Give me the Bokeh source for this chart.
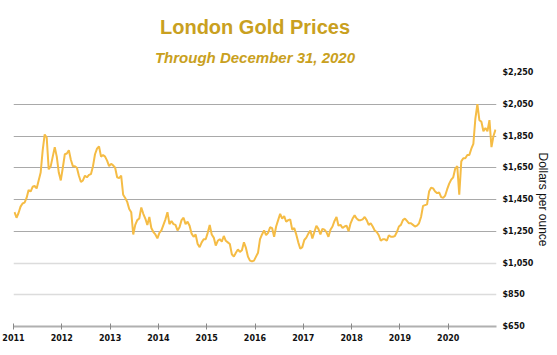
from bokeh.plotting import figure
from bokeh.models import (ColumnDataSource, FixedTicker, NumeralTickFormatter,
                          Title, Range1d, Grid)
from bokeh.embed import file_html
from bokeh.resources import INLINE

# Semi-monthly London gold prices (USD/oz)
y2011 = [1370, 1335, 1365, 1405, 1425, 1430, 1460, 1510, 1500, 1530, 1535, 1520,
         1570, 1620, 1760, 1860, 1840, 1640, 1660, 1720, 1780, 1720, 1620, 1570]
y2012 = [1650, 1735, 1740, 1760, 1700, 1660, 1660, 1650, 1600, 1560, 1570, 1600,
         1590, 1605, 1610, 1660, 1735, 1770, 1785, 1720, 1730, 1720, 1695, 1660]
y2013 = [1675, 1665, 1650, 1590, 1585, 1600, 1480, 1460, 1435, 1390, 1370, 1230,
         1290, 1320, 1330, 1400, 1360, 1330, 1290, 1340, 1270, 1245, 1230, 1205]
y2014 = [1240, 1255, 1290, 1325, 1370, 1295, 1315, 1295, 1290, 1255, 1275, 1320,
         1335, 1295, 1310, 1285, 1235, 1215, 1230, 1170, 1150, 1180, 1200, 1200]
y2015 = [1240, 1290, 1230, 1210, 1160, 1190, 1200, 1185, 1220, 1190, 1180, 1170,
         1105, 1090, 1115, 1135, 1120, 1130, 1180, 1145, 1090, 1065, 1060, 1065]
y2016 = [1090, 1115, 1200, 1230, 1255, 1225, 1240, 1275, 1270, 1215, 1280, 1320,
         1360, 1330, 1345, 1310, 1320, 1325, 1260, 1270, 1230, 1180, 1140, 1150]
y2017 = [1195, 1210, 1235, 1255, 1205, 1245, 1285, 1265, 1230, 1265, 1260, 1245,
         1215, 1260, 1280, 1315, 1340, 1285, 1290, 1270, 1280, 1285, 1250, 1300]
y2018 = [1330, 1350, 1330, 1320, 1320, 1325, 1340, 1320, 1290, 1300, 1280, 1255,
         1245, 1225, 1190, 1200, 1200, 1190, 1225, 1215, 1215, 1220, 1245, 1280]
y2019 = [1290, 1320, 1330, 1315, 1300, 1300, 1290, 1280, 1285, 1300, 1340, 1410,
         1415, 1420, 1500, 1525, 1520, 1500, 1490, 1495, 1465, 1460, 1475, 1515]
y2020 = [1550, 1575, 1590, 1645, 1660, 1480, 1690, 1710, 1710, 1730, 1730, 1770,
         1800, 1960, 2050, 1950, 1940, 1880, 1900, 1880, 1950, 1780, 1850, 1890]

years = [2011, 2012, 2013, 2014, 2015, 2016, 2017, 2018, 2019, 2020]
year_series = [y2011, y2012, y2013, y2014, y2015, y2016, y2017, y2018, y2019, y2020]
price_ticks = [650, 850, 1050, 1250, 1450, 1650, 1850, 2050, 2250]
dark_grid_ticks = [1250, 1450, 1650, 1850, 2050, 2250]
light_grid_ticks = [850, 1050]

xs, ys = [], []
for yr, vals in zip(years, year_series):
    n = len(vals)
    for i, v in enumerate(vals):
        xs.append(yr + (i + 0.5) / n)
        ys.append(v)
src = ColumnDataSource(data=dict(x=xs, y=ys))

GOLD = "#C9A020"
LINE = "#F5BC45"

p = figure(width=553, height=345, output_backend="svg", toolbar_location=None,
           x_range=Range1d(2011, 2021), y_range=Range1d(650, 2250),
           y_axis_location="right",
           min_border_left=13, min_border_right=0, min_border_top=72, min_border_bottom=19)
p.outline_line_color = None
p.background_fill_color = "white"
p.border_fill_color = "white"

p.add_layout(Title(text="Through December 31, 2020", text_font="Liberation Sans",
                   text_font_size="15px", text_font_style="bold italic", text_color=GOLD,
                   align="center", offset=-9, standoff=14), "above")
p.add_layout(Title(text="London Gold Prices", text_font="Liberation Sans",
                   text_font_size="20px", text_font_style="bold", text_color=GOLD,
                   align="center", offset=-9, standoff=4), "above")

# grids
p.xgrid.visible = False
p.ygrid.visible = False
p.add_layout(Grid(dimension=1, ticker=FixedTicker(ticks=dark_grid_ticks),
                  grid_line_color="#a9a9a9", grid_line_width=1))
p.add_layout(Grid(dimension=1, ticker=FixedTicker(ticks=light_grid_ticks),
                  grid_line_color="#dcdcdc", grid_line_width=1.5))

p.line("x", "y", source=src, line_color=LINE, line_width=2)

# x axis
xa = p.xaxis[0]
xa.ticker = FixedTicker(ticks=years)
xa.axis_line_color = "#b0b0b0"
xa.axis_line_width = 2
xa.major_tick_line_color = "#888888"
xa.major_tick_in = 3
xa.major_tick_out = 3
xa.minor_tick_line_color = None
xa.major_label_text_font = "DejaVu Sans"
xa.major_label_text_font_style = "bold"
xa.major_label_text_font_size = "8px"
xa.major_label_text_color = "#111111"
xa.major_label_standoff = 4

# y axis (right)
ya = p.yaxis[0]
ya.ticker = FixedTicker(ticks=price_ticks)
ya.formatter = NumeralTickFormatter(format="$0,0")
ya.axis_line_color = None
ya.major_tick_line_color = None
ya.minor_tick_line_color = None
ya.major_tick_in = 0
ya.major_tick_out = 0
ya.major_label_text_font = "DejaVu Sans"
ya.major_label_text_font_style = "bold"
ya.major_label_text_font_size = "8px"
ya.major_label_text_color = "#111111"
ya.major_label_standoff = 6
ya.axis_label = "Dollars per ounce"
ya.axis_label_text_font = "Liberation Sans"
ya.axis_label_text_font_style = "normal"
ya.axis_label_text_font_size = "12px"
ya.axis_label_text_color = "#111111"
ya.axis_label_standoff = 0

open("out.html", "w").write(file_html(p, INLINE))
